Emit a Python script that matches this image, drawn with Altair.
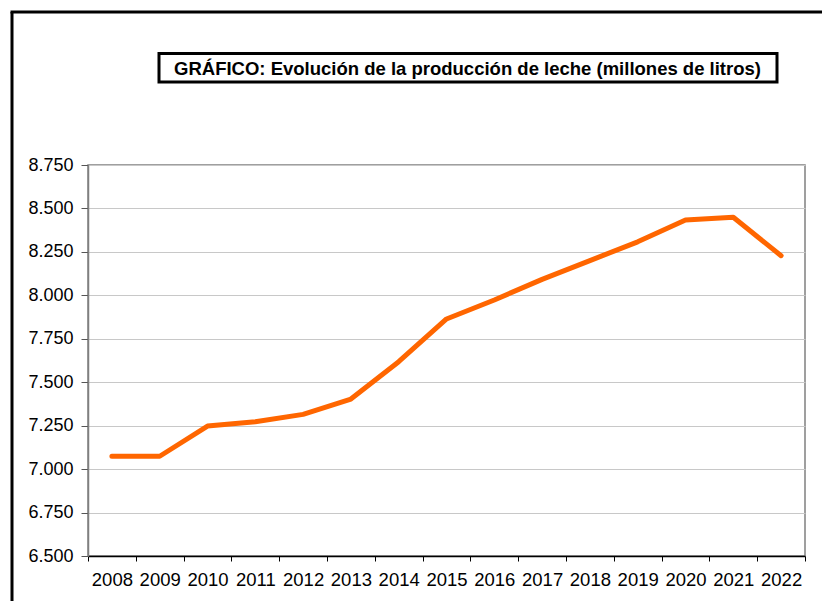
import altair as alt
import pandas as pd

# ---- data ----
years = ["2008", "2009", "2010", "2011", "2012", "2013", "2014", "2015",
         "2016", "2017", "2018", "2019", "2020", "2021", "2022"]
produccion = [7074, 7074, 7248, 7273, 7315, 7403, 7618, 7864,
              7973, 8092, 8200, 8308, 8433, 8449, 8228]
y_ticks = [6500, 6750, 7000, 7250, 7500, 7750, 8000, 8250, 8500, 8750]
title_text = "GRÁFICO: Evolución de la producción de leche (millones de litros)"

df = pd.DataFrame({"anio": years, "valor": produccion})
one = pd.DataFrame({"k": [0]})

W, H = 717, 391
FONT = "Liberation Sans"

line = alt.Chart(df).mark_line(
    color="#FF6600", strokeWidth=5, strokeCap="round", strokeJoin="round"
).encode(
    x=alt.X(
        "anio:O",
        sort=years,
        scale=alt.Scale(type="band", paddingInner=0, paddingOuter=0),
        axis=alt.Axis(
            title=None, labelAngle=0, tickBand="extent", labelFontSize=18.5,
            labelFont=FONT, labelColor="#000000", labelPadding=9,
            tickSize=5, tickColor="#000000", domainColor="#000000",
            domainWidth=1.5, grid=False,
        ),
    ),
    y=alt.Y(
        "valor:Q",
        scale=alt.Scale(domain=[6500, 8750], nice=False, zero=False),
        axis=alt.Axis(
            title=None, values=y_ticks,
            labelExpr="replace(format(datum.value, ',.0f'), ',', '.')",
            labelFontSize=18, labelFont=FONT, labelColor="#000000",
            labelPadding=8, tickSize=7, tickColor="#555555",
            domainColor="#808080", domainWidth=1.5,
            grid=True, gridColor="#c8c8c8", gridWidth=1,
        ),
    ),
)

frame_left = alt.Chart(one).mark_rule(color="#000000", strokeWidth=3).encode(
    x=alt.value(-76), y=alt.value(-153), y2=alt.value(440)
)
frame_top = alt.Chart(one).mark_rule(color="#000000", strokeWidth=3).encode(
    x=alt.value(-77.5), x2=alt.value(740), y=alt.value(-153)
)
title_box = alt.Chart(one).mark_rect(
    fill="white", stroke="#000000", strokeWidth=3
).encode(
    x=alt.value(71), x2=alt.value(689), y=alt.value(-111.5), y2=alt.value(-83)
)
title_lbl = alt.Chart(one).mark_text(
    text=title_text, fontSize=18.5, fontWeight="bold", font=FONT,
    align="center", baseline="middle", color="#000000"
).encode(x=alt.value(379.5), y=alt.value(-96.5))

chart = alt.layer(line, frame_left, frame_top, title_box, title_lbl).properties(
    width=W, height=H,
    autosize=alt.AutoSizeParams(type="none"),
    padding={"left": 80, "top": 157, "right": 17, "bottom": 45},
    background="white",
).configure_view(stroke="#808080", strokeWidth=1.5)

chart.save("out.html", embed_options={"renderer": "svg", "actions": False})
